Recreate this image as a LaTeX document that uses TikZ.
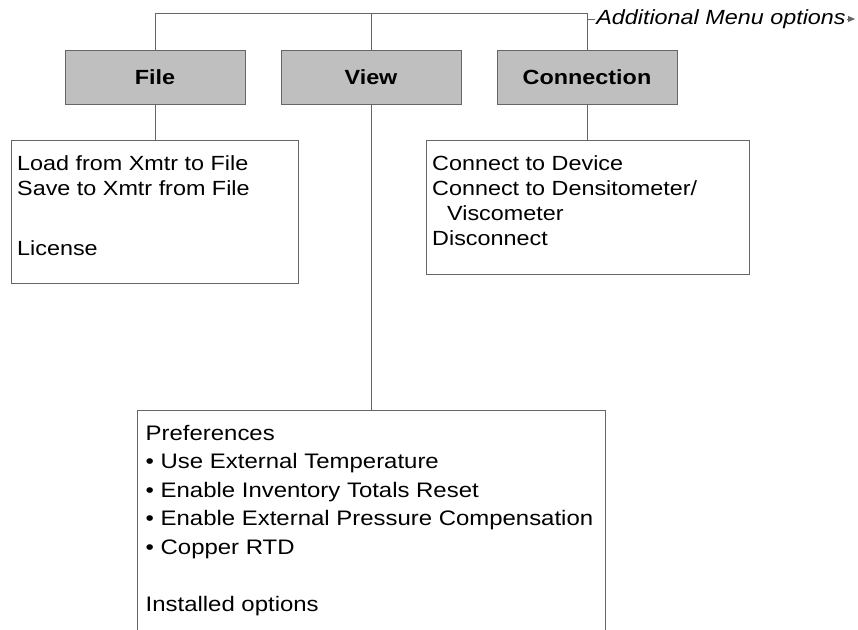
\documentclass[tikz,border=0pt]{standalone}
\usepackage{fontspec}
\setmainfont{Liberation Sans}[FakeStretch=1.14]
\usetikzlibrary{arrows.meta}
\begin{document}
\begin{tikzpicture}[x=1pt,y=-1pt,
  line/.style={draw=black!60, line width=1pt},
  head/.style={line, fill=black!25, minimum width=180pt, minimum height=54pt, inner sep=0pt, font=\fontsize{20.5}{25}\selectfont\bfseries},
  subbox/.style={line, fill=white, inner sep=0pt, anchor=north west},
  txt/.style={inner sep=0pt, align=left, anchor=base west, font=\fontsize{20.5}{25}\selectfont},
  ]
\clip (0,0) rectangle (858,629);
\fill[white] (0,0) rectangle (858,629);
% header boxes
\node[head] (file) at (155,77) {File};
\node[head] (view) at (371,77) {View};
\node[head] (conn) at (587,77) {Connection};
% sub boxes
\node[subbox, minimum width=287pt, minimum height=143pt] (filebox) at (11,140) {};
\node[subbox, minimum width=323pt, minimum height=134pt] (connbox) at (426,140) {};
\node[subbox, minimum width=468pt, minimum height=260pt] (viewbox) at (137,409.7) {};
% top bar
\coordinate (bar) at (0,13.5);
\draw[line] (file.north) -- (file.north |- bar) -- (conn.north |- bar) -- (conn.north);
\draw[line] (view.north) -- (view.north |- bar);
% drops
\draw[line] (file.south) -- (file.south |- filebox.north);
\draw[line] (view.south) -- (view.south |- viewbox.north);
\draw[line] (conn.south) -- (conn.south |- connbox.north);
% additional menu options arrow
\coordinate (addend) at (855,19);
\draw[line, -{Triangle[length=7pt,width=6pt]}] (conn.north |- addend) -- node[fill=white, inner sep=1pt, font=\fontsize{20.5}{25}\selectfont\itshape] (addl) {Additional Menu options} (addend);
% texts (base anchor = baseline of last line)
\node[txt] (filetxt) at ([shift={(6,115)}]filebox.north west) {Load from Xmtr to File\\Save to Xmtr from File\\[34.3pt]License};
\node[txt] (conntxt) at ([shift={(6,105)}]connbox.north west) {Connect to Device\\Connect to Densitometer/\\\hspace*{15pt}Viscometer\\Disconnect};
\node[txt, font=\fontsize{21}{28.5}\selectfont] (viewtxt) at ([shift={(8.5,201.3)}]viewbox.north west) {Preferences\\• Use External Temperature\\• Enable Inventory Totals Reset\\• Enable External Pressure Compensation\\• Copper RTD\\[28.5pt]Installed options};
\end{tikzpicture}
\end{document}
